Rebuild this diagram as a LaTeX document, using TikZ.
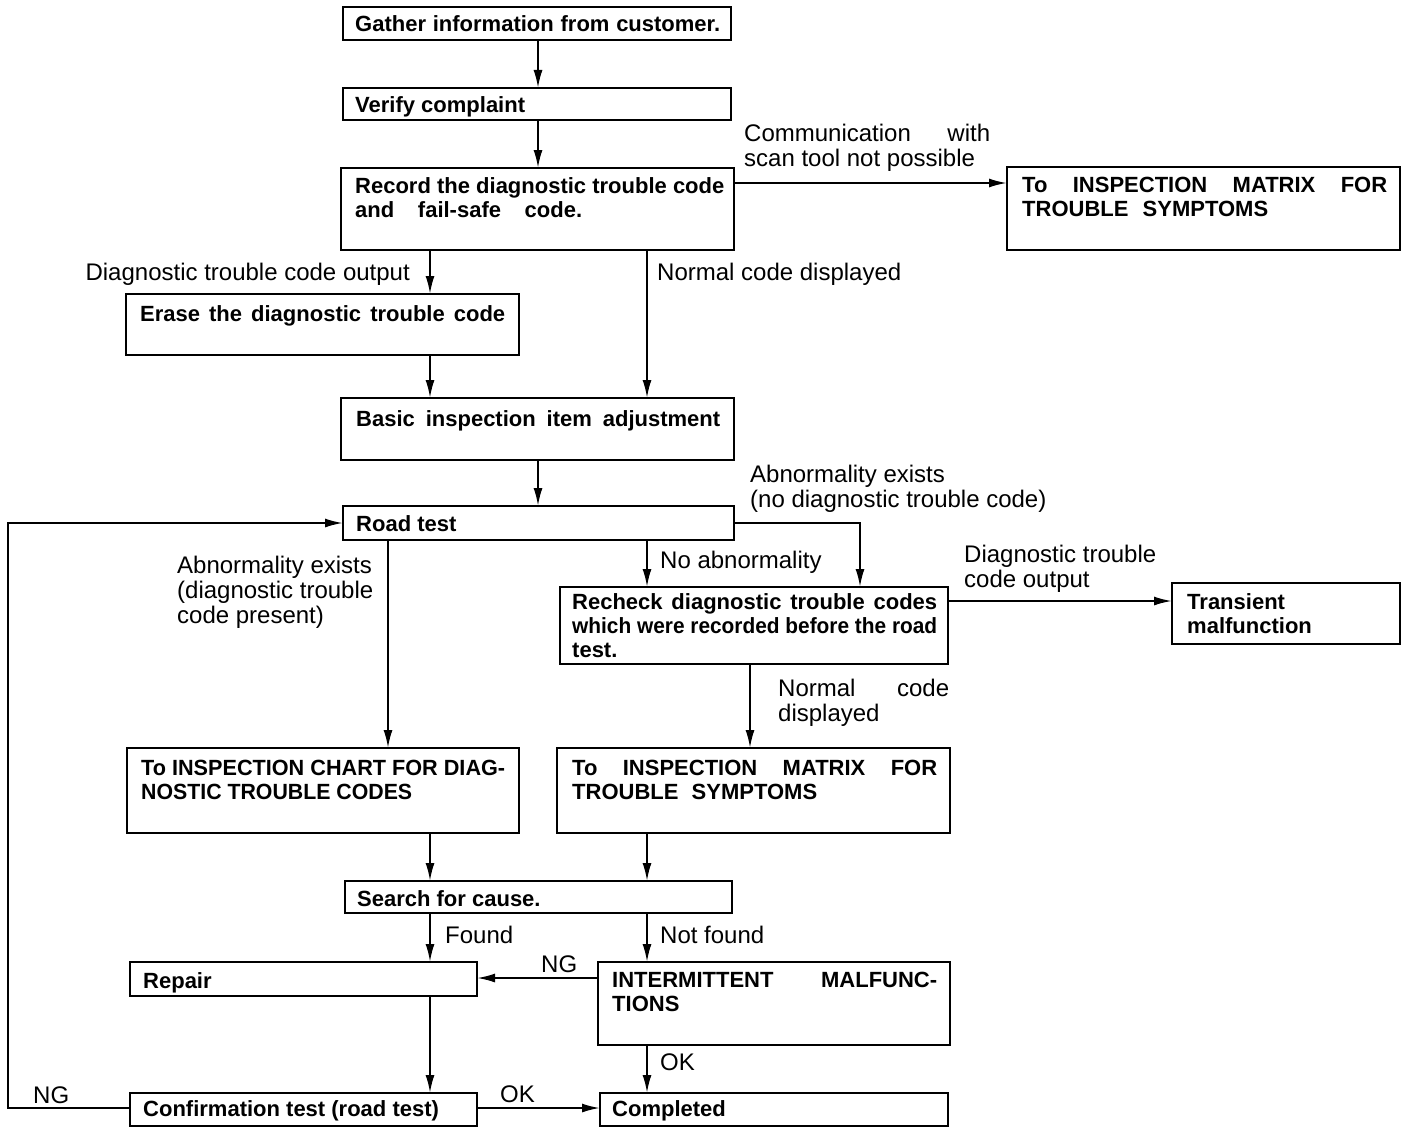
\documentclass[tikz,border=0pt]{standalone}
\usepackage{fontspec}
\setmainfont{Liberation Sans}
\usepackage{graphicx}
\usetikzlibrary{arrows.meta,fit}
\newcommand\jw[2]{\makebox[#1pt][s]{#2}}
\newcommand\sq[2]{\resizebox{#1pt}{\height}{#2}}
\newcommand\bx[5]{\coordinate (#1nw) at (#2,#3); \coordinate (#1se) at (#4,#5); \node[box, fit=(#1nw)(#1se)] (#1) {};}
\begin{document}
\begin{tikzpicture}[x=1pt,y=-1pt,
  box/.style={draw, line width=2.3pt, inner sep=0pt, outer sep=0pt},
  btxt/.style={anchor=north west, inner sep=0pt, align=left, font=\fontsize{22}{24}\selectfont\bfseries},
  lbl/.style={anchor=north west, inner sep=0pt, align=left, font=\fontsize{24}{25}\selectfont},
  arr/.style={line width=2pt, -{Latex[length=18pt,width=9pt]}}]
\fill[white] (0,0) rectangle (1408,1132);
\useasboundingbox (0,0) rectangle (1408,1132);
% boxes
\bx{b1}{343}{7}{731}{40}
\bx{b2}{343}{88}{731}{120}
\bx{b3}{341}{168}{734}{250}
\bx{b4}{1007}{167}{1400}{250}
\bx{b5}{126}{294}{519}{355}
\bx{b6}{341}{398}{734}{460}
\bx{b7}{343}{506}{734}{540}
\bx{b8}{560}{587}{948}{664}
\bx{b9}{1172}{583}{1400}{644}
\bx{b10}{127}{748}{519}{833}
\bx{b11}{557}{748}{950}{833}
\bx{b12}{345}{881}{732}{913}
\bx{b13}{130}{962}{477}{996}
\bx{b14}{598}{962}{950}{1045}
\bx{b15}{130}{1093}{477}{1126}
\bx{b16}{600}{1093}{948}{1126}
% box texts
\node[btxt] (t1) at (355,15) {\jw{365}{Gather information from customer.}};
\node[btxt] (t2) at (355,96) {Verify complaint};
\node[btxt] (t3) at (355,177) {Record the diagnostic trouble code\\\jw{227}{and fail-safe code.}};
\node[btxt] (t4) at (1022,177) {\jw{365}{To INSPECTION MATRIX FOR}\\\jw{246}{TROUBLE SYMPTOMS}};
\node[btxt] (t5) at (140,305) {\jw{365}{Erase the diagnostic trouble code}};
\node[btxt] (t6) at (356,410) {\jw{364}{Basic inspection item adjustment}};
\node[btxt] (t7) at (356,515) {Road test};
\node[btxt] (t8) at (572,593) {\jw{365}{Recheck diagnostic trouble codes}\\\sq{365}{which were recorded before the road}\\test.};
\node[btxt] (t9) at (1187,593) {Transient\\malfunction};
\node[btxt] (t10) at (141,760) {\sq{364}{To INSPECTION CHART FOR DIAG-}\\\sq{271}{NOSTIC TROUBLE CODES}};
\node[btxt] (t11) at (572,760) {\jw{365}{To INSPECTION MATRIX FOR}\\\jw{245}{TROUBLE SYMPTOMS}};
\node[btxt] (t12) at (357,890) {Search for cause.};
\node[btxt] (t13) at (143,972) {Repair};
\node[btxt] (t14) at (612,972) {\jw{325}{INTERMITTENT MALFUNC-}\\TIONS};
\node[btxt] (t15) at (143,1100) {Confirmation test (road test)};
\node[btxt] (t16) at (612,1100) {Completed};
% labels
\node[lbl] (l1) at (744,124) {\jw{246}{Communication with}\\scan tool not possible};
\node[lbl, anchor=north east] (l2) at (410,263) {Diagnostic trouble code output};
\node[lbl] (l3) at (657,263) {Normal code displayed};
\node[lbl] (l4) at (750,465) {Abnormality exists\\(no diagnostic trouble code)};
\node[lbl] (l5) at (660,551) {No abnormality};
\node[lbl] (l6) at (177,556) {Abnormality exists\\(diagnostic trouble\\code present)};
\node[lbl] (l7) at (964,545) {Diagnostic trouble\\code output};
\node[lbl] (l8) at (778,679) {\jw{171}{Normal code}\\displayed};
\node[lbl] (l9) at (445,926) {Found};
\node[lbl] (l10) at (660,926) {Not found};
\node[lbl] (l11) at (541,956) {NG};
\node[lbl] (l12) at (660,1054) {OK};
\node[lbl] (l13) at (33,1087) {NG};
\node[lbl] (l14) at (500,1086) {OK};
% guide coordinates
\coordinate (cA) at (388,0);
\coordinate (cB) at (430,0);
\coordinate (cC) at (538,0);
\coordinate (cD) at (647,0);
\coordinate (cE) at (750,0);
\coordinate (cF) at (860,0);
\coordinate (cG) at (8,0);
\coordinate (rA) at (0,183);
\coordinate (rB) at (0,523);
\coordinate (rC) at (0,601);
\coordinate (rD) at (0,978);
\coordinate (rE) at (0,1108);
% connectors
\draw[arr] (b1.south -| cC) -- (b2.north -| cC);
\draw[arr] (b2.south -| cC) -- (b3.north -| cC);
\draw[arr] (b3.east |- rA) -- (b4.west |- rA);
\draw[arr] (b3.south -| cB) -- (b5.north -| cB);
\draw[arr] (b3.south -| cD) -- (b6.north -| cD);
\draw[arr] (b5.south -| cB) -- (b6.north -| cB);
\draw[arr] (b6.south -| cC) -- (b7.north -| cC);
\draw[arr] (b7.south -| cD) -- (b8.north -| cD);
\draw[arr] (b7.east |- rB) -| (b8.north -| cF);
\draw[arr] (b7.south -| cA) -- (b10.north -| cA);
\draw[arr] (b8.east |- rC) -- (b9.west |- rC);
\draw[arr] (b8.south -| cE) -- (b11.north -| cE);
\draw[arr] (b10.south -| cB) -- (b12.north -| cB);
\draw[arr] (b11.south -| cD) -- (b12.north -| cD);
\draw[arr] (b12.south -| cB) -- (b13.north -| cB);
\draw[arr] (b12.south -| cD) -- (b14.north -| cD);
\draw[arr] (b14.west |- rD) -- (b13.east |- rD);
\draw[arr] (b13.south -| cB) -- (b15.north -| cB);
\draw[arr] (b14.south -| cD) -- (b16.north -| cD);
\draw[arr] (b15.east |- rE) -- (b16.west |- rE);
\draw[arr] (b15.west |- rE) -| (cG |- rB) -- (b7.west |- rB);
\end{tikzpicture}
\end{document}
